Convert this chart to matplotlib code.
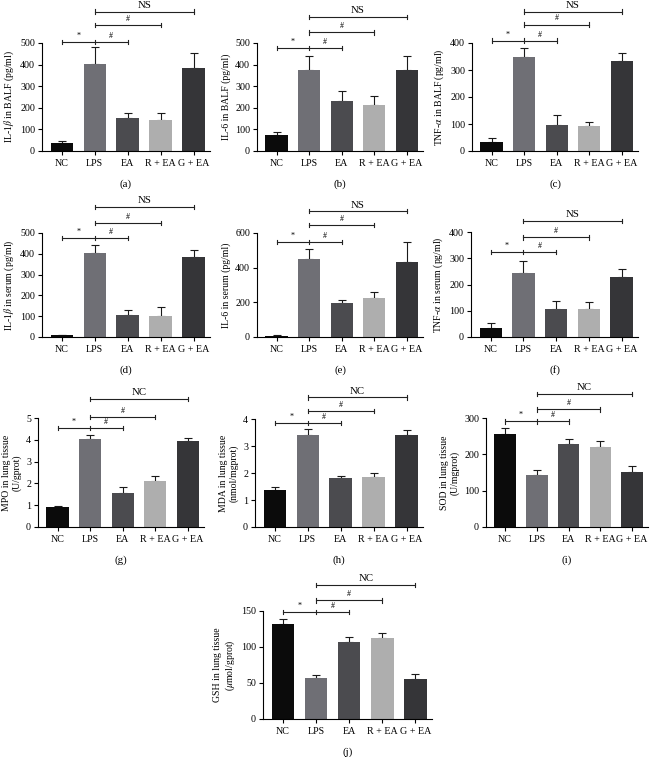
import numpy as np
import matplotlib.pyplot as plt

plt.rcParams['font.family'] = ['Liberation Serif', 'DejaVu Serif']
plt.rcParams['mathtext.fontset'] = 'stix'

# groups shared by all panels
groups = ['NC', 'LPS', 'EA', 'R + EA', 'G + EA']
bar_colors = ['#0b0b0b', '#6f6f75', '#4b4b4f', '#aeaeae', '#353538']

# means and upper error (SD)
il1b_balf = [38, 405, 155, 142, 385]
il1b_balf_err = [10, 78, 23, 33, 67]
il6_balf = [72, 375, 232, 212, 375]
il6_balf_err = [16, 65, 44, 41, 65]
tnf_balf = [33, 348, 97, 91, 335]
tnf_balf_err = [15, 32, 35, 17, 27]

il1b_serum = [10, 405, 105, 100, 383]
il1b_serum_err = [2, 35, 27, 45, 33]
il6_serum = [8, 450, 198, 225, 435]
il6_serum_err = [3, 58, 17, 33, 113]
tnf_serum = [33, 245, 107, 108, 228]
tnf_serum_err = [22, 43, 31, 27, 32]

mpo = [0.90, 4.02, 1.58, 2.10, 3.95]
mpo_err = [0.08, 0.20, 0.24, 0.22, 0.15]
mda = [1.37, 3.42, 1.83, 1.84, 3.40]
mda_err = [0.13, 0.20, 0.07, 0.16, 0.20]
sod = [257, 143, 228, 220, 151]
sod_err = [16, 13, 13, 16, 16]
gsh = [132, 57, 107, 113, 56]
gsh_err = [7, 4, 7, 7, 6]


def px_axes(fig, x0, x1, ytop, ybot, W=650, H=757):
    return fig.add_axes([x0 / W, 1 - ybot / H, (x1 - x0) / W, (ybot - ytop) / H])


def bracket(ax, xa, xb, y, ymax, mid=None):
    cap = 0.022 * ymax
    kw = dict(color='#222222', lw=0.8, clip_on=False)
    ax.plot([xa, xb], [y, y], **kw)
    for xx in [xa, xb] + ([mid] if mid is not None else []):
        ax.plot([xx, xx], [y - cap, y + cap], **kw)


def panel(ax, vals, errs, yticks, ylabel, letter, levels, top_text):
    x = np.arange(len(groups))
    ymax = yticks[-1]
    ax.bar(x, vals, width=0.68, color=bar_colors, zorder=2)
    ax.errorbar(x, vals, yerr=[np.zeros(len(vals)), errs], fmt='none',
                ecolor='#1a1a1a', elinewidth=0.8, capsize=3, capthick=0.8, zorder=1)
    ax.set_xlim(-0.6, 4.5)
    ax.set_ylim(0, ymax)
    ax.set_yticks(yticks)
    ax.set_xticks(x)
    ax.set_xticklabels(groups, fontsize=7.2)
    ax.tick_params(axis='y', labelsize=7.2, length=3, width=0.8, pad=2)
    ax.tick_params(axis='x', length=3, width=0.8, pad=3)
    for s in ['top', 'right']:
        ax.spines[s].set_visible(False)
    for s in ['left', 'bottom']:
        ax.spines[s].set_linewidth(0.8)
    ax.set_ylabel(ylabel, fontsize=7, labelpad=3, linespacing=1.1)
    ax.annotate(letter, xy=(0.5, 0), xycoords='axes fraction', xytext=(0, -24),
                textcoords='offset points', ha='center', va='center', fontsize=7.8)

    y1, y2, y3 = [l * ymax for l in levels]
    bracket(ax, 0, 2, y1, ymax, mid=1)
    bracket(ax, 1, 3, y2, ymax)
    bracket(ax, 1, 4, y3, ymax)
    tk = dict(ha='center', va='bottom', fontsize=5.8, clip_on=False)
    ax.text(0.5, y1 + 0.02 * ymax, '*', **tk)
    ax.text(1.5, y1 + 0.02 * ymax, '#', **tk)
    ax.text(2.0, y2 + 0.02 * ymax, '#', **tk)
    ax.text(2.5, y3 + 0.015 * ymax, top_text, ha='center', va='bottom', fontsize=7.8,
            clip_on=False)


fig = plt.figure(figsize=(6.5, 7.57), dpi=100)

ax = px_axes(fig, 42, 210, 43, 151)
panel(ax, il1b_balf, il1b_balf_err, [0, 100, 200, 300, 400, 500],
      r'IL-1$\beta$ in BALF (pg/ml)', '(a)', [1.01, 1.167, 1.29], 'NS')
ax = px_axes(fig, 257, 423, 43, 151)
panel(ax, il6_balf, il6_balf_err, [0, 100, 200, 300, 400, 500],
      'IL-6 in BALF (pg/ml)', '(b)', [0.954, 1.10, 1.24], 'NS')
ax = px_axes(fig, 472, 638, 43, 151)
panel(ax, tnf_balf, tnf_balf_err, [0, 100, 200, 300, 400],
      r'TNF-$\alpha$ in BALF (pg/ml)', '(c)', [1.02, 1.17, 1.29], 'NS')

ax = px_axes(fig, 42, 210, 233, 337)
panel(ax, il1b_serum, il1b_serum_err, [0, 100, 200, 300, 400, 500],
      r'IL-1$\beta$ in serum (pg/ml)', '(d)', [0.952, 1.096, 1.25], 'NS')
ax = px_axes(fig, 257, 423, 233, 337)
panel(ax, il6_serum, il6_serum_err, [0, 200, 400, 600],
      'IL-6 in serum (pg/ml)', '(e)', [0.913, 1.077, 1.21], 'NS')
ax = px_axes(fig, 471, 638, 232, 337)
panel(ax, tnf_serum, tnf_serum_err, [0, 100, 200, 300, 400],
      r'TNF-$\alpha$ in serum (pg/ml)', '(f)', [0.81, 0.95, 1.106], 'NS')

ax = px_axes(fig, 38, 204, 418, 527)
panel(ax, mpo, mpo_err, [0, 1, 2, 3, 4, 5],
      'MPO in lung tissue\n(U/gprot)', '(g)', [0.908, 1.009, 1.174], 'NC')
ax = px_axes(fig, 255, 423, 419, 527)
panel(ax, mda, mda_err, [0, 1, 2, 3, 4],
      'MDA in lung tissue\n(nmol/mgprot)', '(h)', [0.963, 1.074, 1.20], 'NC')
ax = px_axes(fig, 486, 648, 418, 527)
panel(ax, sod, sod_err, [0, 100, 200, 300],
      'SOD in lung tissue\n(U/mgprot)', '(i)', [0.97, 1.08, 1.22], 'NC')

ax = px_axes(fig, 263, 432, 611, 719)
panel(ax, gsh, gsh_err, [0, 50, 100, 150],
      'GSH in lung tissue\n($\\mu$mol/gprot)', '(j)', [0.99, 1.10, 1.24], 'NC')

fig.savefig('out.png', dpi=100)
